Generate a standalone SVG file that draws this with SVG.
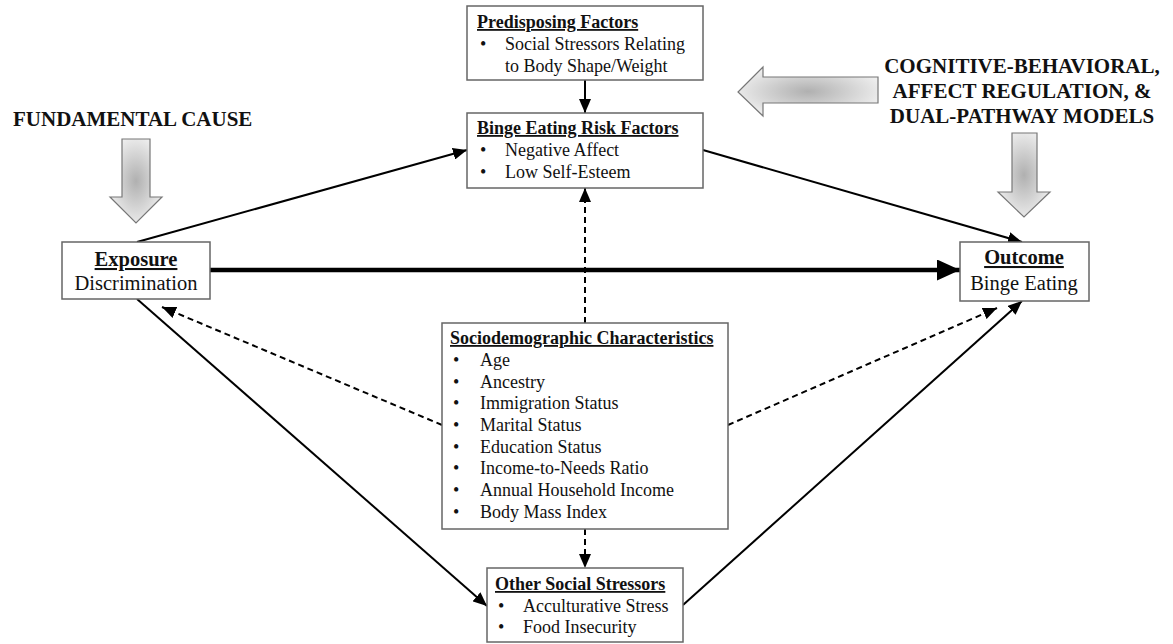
<svg xmlns="http://www.w3.org/2000/svg" width="1173" height="644" viewBox="0 0 1173 644">
<style>
.box{fill:#fff;stroke:#666;stroke-width:1.5}
.t{font-family:"Liberation Serif","Times New Roman",serif;font-size:18px;fill:#111}
.b{font-weight:bold;text-decoration:underline;text-decoration-thickness:2px}
.big{font-family:"Liberation Serif","Times New Roman",serif;font-size:20.5px;fill:#111}
.bu{font-weight:bold;text-decoration:underline;text-decoration-thickness:2px}
.hd{font-family:"Liberation Serif","Times New Roman",serif;font-size:21px;font-weight:bold;fill:#111}
.ln{stroke:#000;stroke-width:2;fill:none;marker-end:url(#ah)}
.ds{stroke:#000;stroke-width:2;fill:none;stroke-dasharray:6 4;marker-end:url(#ah)}
.thick{stroke:#000;stroke-width:4.5;fill:none;marker-end:url(#ahb)}
.ga{fill:url(#gg);stroke:#777;stroke-width:1.2}
</style>
<defs>
<marker id="ah" markerUnits="userSpaceOnUse" markerWidth="14" markerHeight="12" viewBox="0 0 14 12" refX="14" refY="6" orient="auto">
<path d="M0,0 L14,6 L0,12 Z" fill="#000"/>
</marker>
<marker id="ahb" markerUnits="userSpaceOnUse" markerWidth="23" markerHeight="21" viewBox="0 0 23 21" refX="23" refY="10.5" orient="auto">
<path d="M0,0 L23,10.5 L0,21 Z" fill="#000"/>
</marker>
<radialGradient id="gg" cx="50%" cy="50%" r="60%">
<stop offset="0" stop-color="#b0b0b0"/>
<stop offset="1" stop-color="#f4f4f4"/>
</radialGradient>
</defs>
<rect width="1173" height="644" fill="#fff"/>

<g id="fundamental-cause">
<text class="hd" x="13" y="126">FUNDAMENTAL CAUSE</text>
<polygon class="ga" points="122,139 150,139 150,197 162,197 136,223 110,197 122,197"/>
</g>

<g id="models">
<text class="hd" text-anchor="middle" x="1022" y="73">COGNITIVE-BEHAVIORAL,</text>
<text class="hd" text-anchor="middle" x="1022" y="98">AFFECT REGULATION, &amp;</text>
<text class="hd" text-anchor="middle" x="1022" y="123">DUAL-PATHWAY MODELS</text>
<polygon class="ga" points="878,77 878,103 763,103 763,116 738,92 763,67 763,77"/>
<polygon class="ga" points="1012,133 1037,133 1037,192 1050,192 1024,217 998,192 1012,192"/>
</g>

<g id="connectors">
<line class="ln" x1="585" y1="80" x2="585" y2="113"/>
<line class="ln" x1="137" y1="242" x2="467" y2="150"/>
<line class="ln" x1="703" y1="150" x2="1022" y2="242"/>
<line class="thick" x1="210" y1="270" x2="960" y2="270"/>
<line class="ds" x1="585" y1="323" x2="585" y2="188"/>
<line class="ds" x1="442" y1="425" x2="162" y2="307"/>
<line class="ds" x1="728" y1="425" x2="997" y2="308"/>
<line class="ln" x1="137" y1="299" x2="487" y2="606"/>
<line class="ln" x1="683" y1="605" x2="1022" y2="301"/>
<line class="ds" x1="585" y1="529" x2="585" y2="568"/>
</g>

<g id="predisposing">
<rect class="box" x="467" y="6" width="236" height="74"/>
<text class="t b" x="477" y="28">Predisposing Factors</text>
<text class="t" x="480" y="50">•</text>
<text class="t" x="505" y="50">Social Stressors Relating</text>
<text class="t" x="505" y="72">to Body Shape/Weight</text>
</g>

<g id="risk-factors">
<rect class="box" x="467" y="113" width="236" height="75"/>
<text class="t b" x="477" y="134">Binge Eating Risk Factors</text>
<text class="t" x="480" y="156">•</text>
<text class="t" x="505" y="156">Negative Affect</text>
<text class="t" x="480" y="178">•</text>
<text class="t" x="505" y="178">Low Self-Esteem</text>
</g>

<g id="exposure">
<rect class="box" x="62" y="242" width="148" height="57"/>
<text class="big bu" text-anchor="middle" x="136" y="266">Exposure</text>
<text class="big" text-anchor="middle" x="136" y="290">Discrimination</text>
</g>

<g id="outcome">
<rect class="box" x="960" y="242" width="129" height="59"/>
<text class="big bu" text-anchor="middle" x="1024" y="264">Outcome</text>
<text class="big" text-anchor="middle" x="1024" y="290">Binge Eating</text>
</g>

<g id="sociodemographic">
<rect class="box" x="442" y="323" width="286" height="206"/>
<text class="t b" x="450" y="344">Sociodemographic Characteristics</text>
<g class="t">
<text x="453" y="366">•</text><text x="480" y="366">Age</text>
<text x="453" y="388">•</text><text x="480" y="388">Ancestry</text>
<text x="453" y="409">•</text><text x="480" y="409">Immigration Status</text>
<text x="453" y="431">•</text><text x="480" y="431">Marital Status</text>
<text x="453" y="453">•</text><text x="480" y="453">Education Status</text>
<text x="453" y="474">•</text><text x="480" y="474">Income-to-Needs Ratio</text>
<text x="453" y="496">•</text><text x="480" y="496">Annual Household Income</text>
<text x="453" y="518">•</text><text x="480" y="518">Body Mass Index</text>
</g>
</g>

<g id="other-stressors">
<rect class="box" x="487" y="568" width="196" height="74"/>
<text class="t b" x="495" y="590">Other Social Stressors</text>
<text class="t" x="498" y="612">•</text>
<text class="t" x="523" y="612">Acculturative Stress</text>
<text class="t" x="498" y="633">•</text>
<text class="t" x="523" y="633">Food Insecurity</text>
</g>
</svg>
